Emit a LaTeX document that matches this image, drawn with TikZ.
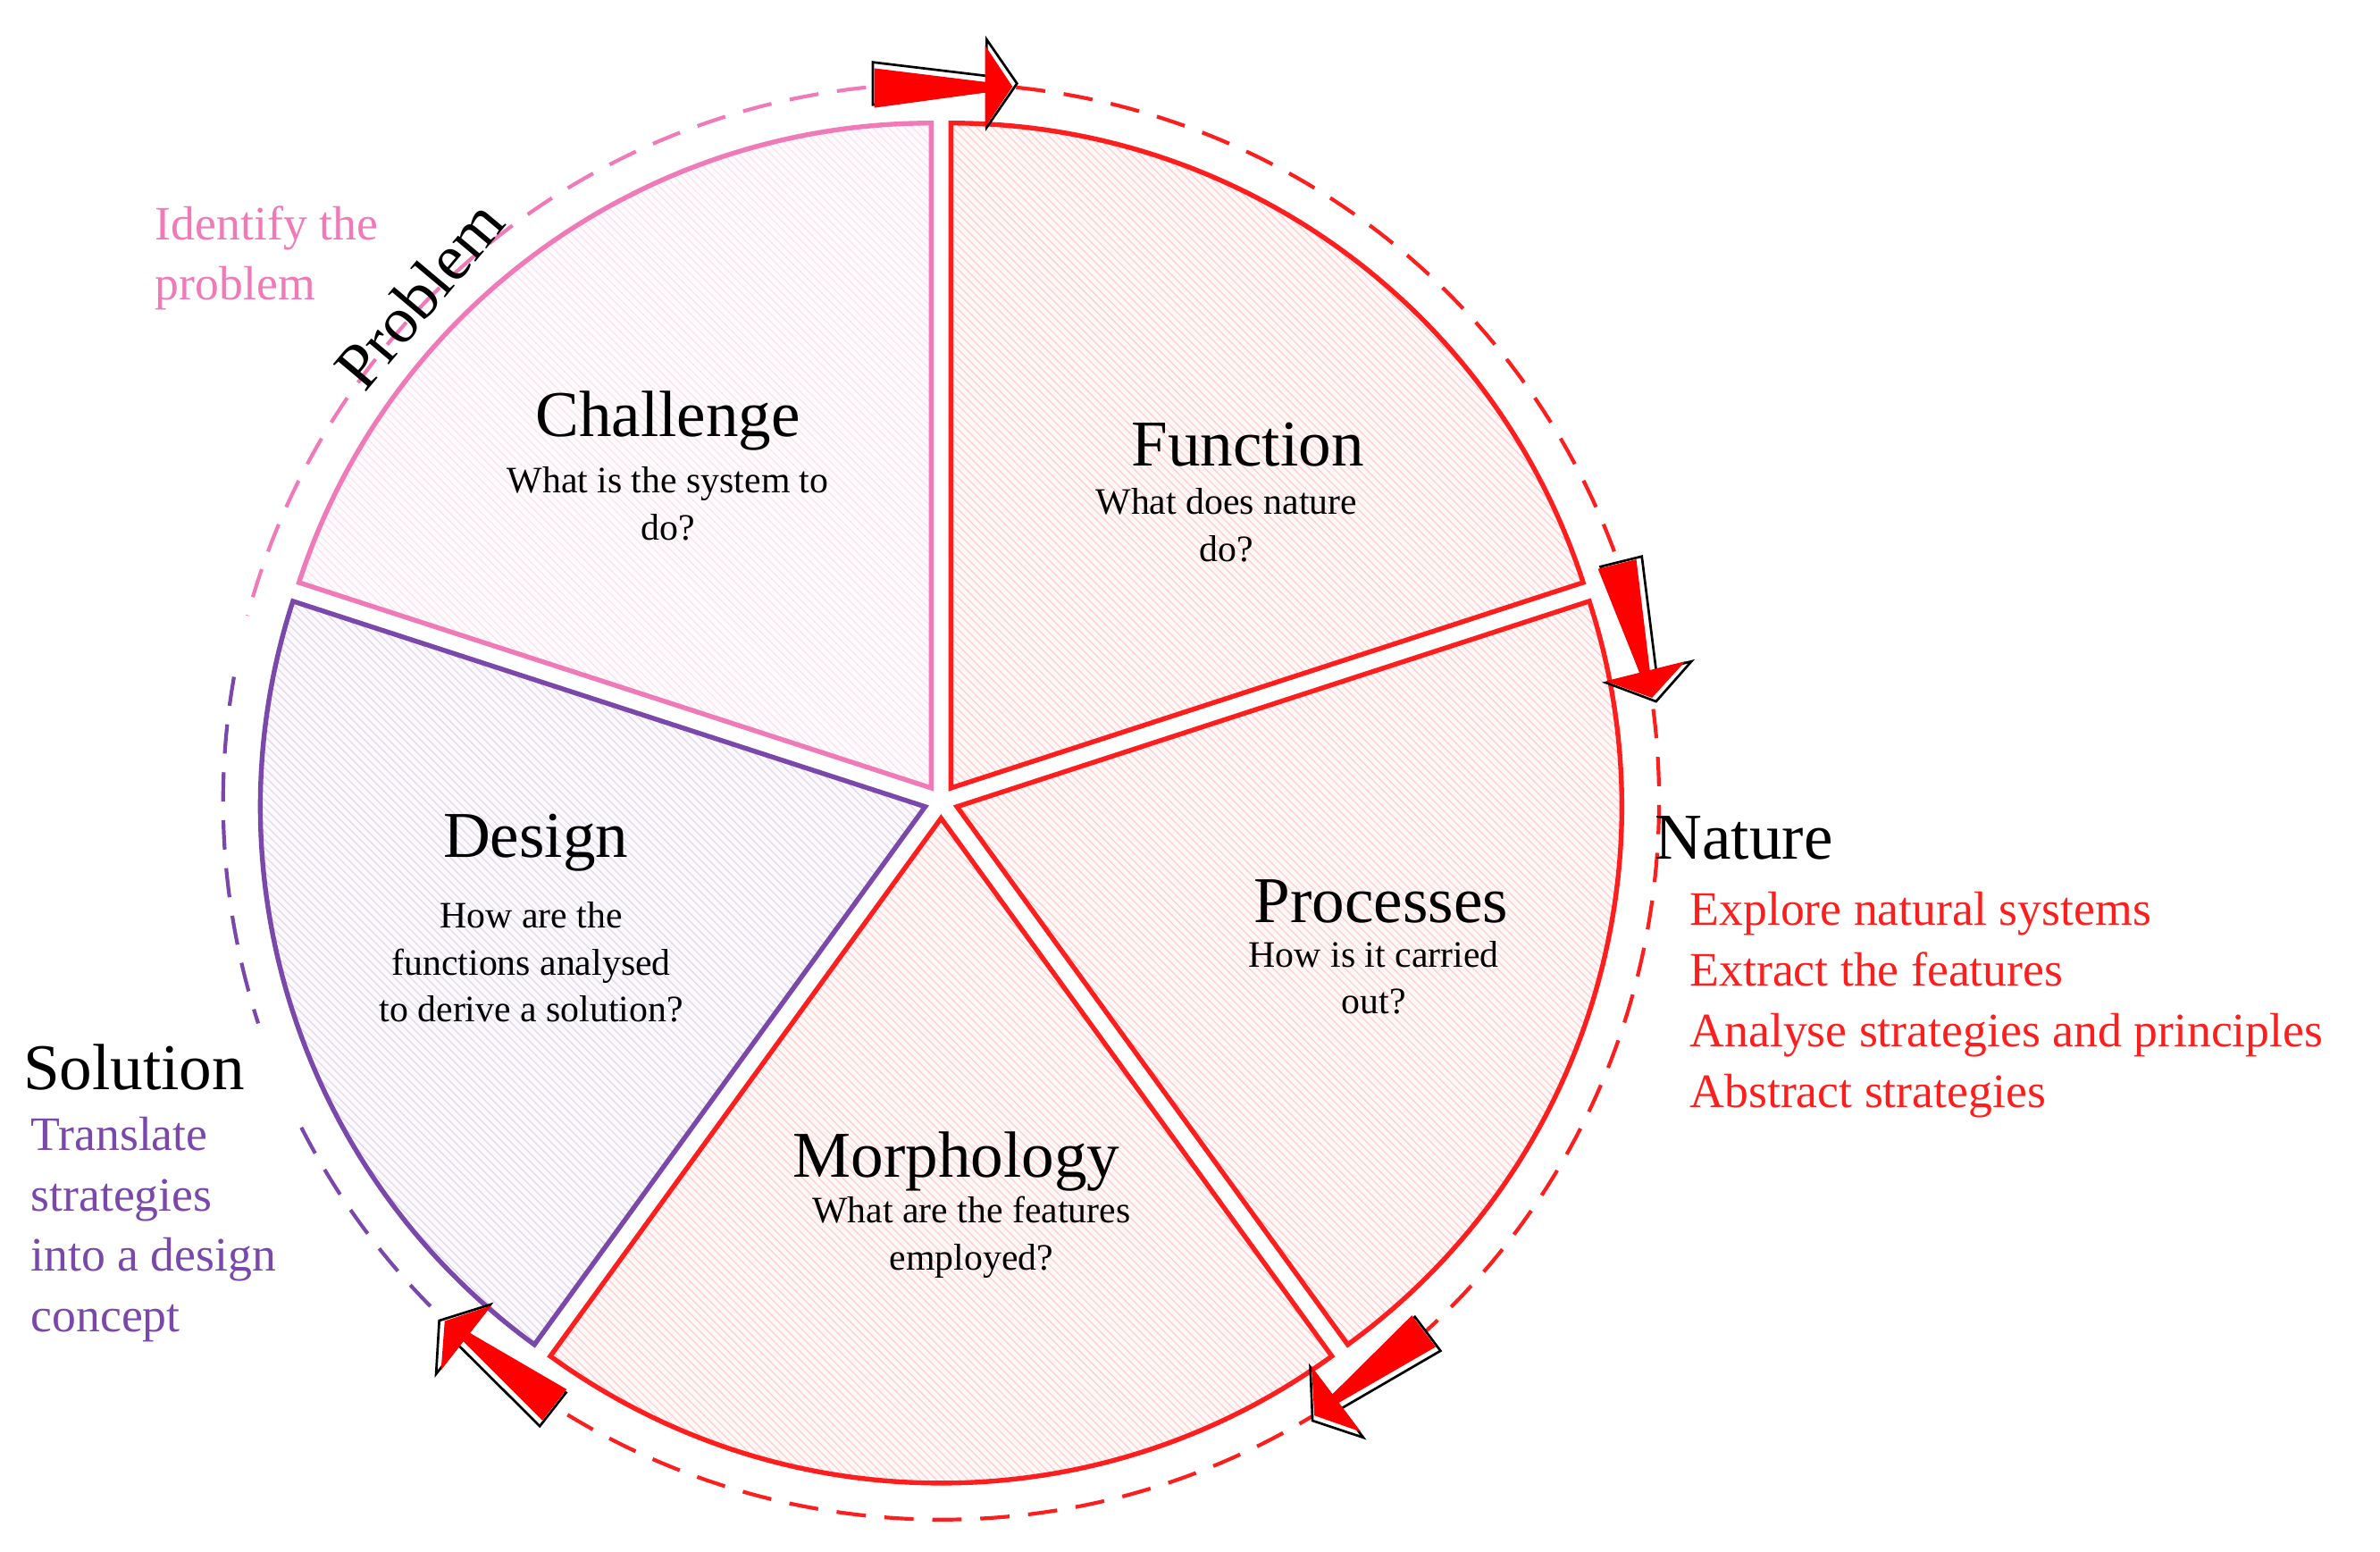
\documentclass[tikz,border=0pt]{standalone}
\usepackage{fontspec}
\setmainfont{Liberation Serif}
\usetikzlibrary{patterns}
\definecolor{pk}{HTML}{F07AB8}
\definecolor{rd}{HTML}{FF1E1E}
\definecolor{pu}{HTML}{7A48AA}
\newcommand\pieslice[3]{%
  \begin{scope}[shift={({(#1+#2)/2}:11)}]
   \fill[#3!3] (0,0) -- (#1:438) arc (#1:#2:438) -- cycle;
   \path[pattern=north west lines, pattern color=#3!22] (0,0) -- (#1:438) arc (#1:#2:438) -- cycle;
   \draw[#3, line width=1.8pt, line join=miter] (0,0) -- (#1:438) arc (#1:#2:438) -- cycle;
  \end{scope}}
\tikzset{
  ttl/.style={font=\fontsize{24.5}{28}\selectfont},
  sub/.style={font=\fontsize{14}{17.6}\selectfont, align=center},
  lst/.style={font=\fontsize{18}{22.7}\selectfont, align=left, anchor=west, inner sep=0},
  dsh/.style={line width=1.4pt, dash pattern=on 11pt off 7pt},
  blk/.pic={
    \draw[black, line width=0.9pt, fill=white] (-45,14) -- (30,5) -- (30,29) -- (50,0) -- (30,-29) -- (30,-5) -- (-45,-14) -- cycle;
    \fill[red] (-44,10) -- (29,1) -- (29,25) -- (47,-2) -- (29,-29) -- (29,-6) -- (-44,-16) -- cycle;
  }
}
\begin{document}
\begin{tikzpicture}[x=0.02cm,y=0.02cm]
\useasboundingbox (0,0) rectangle (1568,1022);
\begin{scope}[shift={(620,494)}]
  \draw[pk,dsh] (96:473) arc (96:165:473);
  \draw[pu,dsh] (170:473) arc (170:198:473);
  \draw[pu,dsh] (207:473) arc (207:234:473);
  \draw[rd,dsh] (84:473) arc (84:-123:473);
  \pieslice{90}{162}{pk}
  \pieslice{18}{90}{rd}
  \pieslice{-54}{18}{rd}
  \pieslice{-126}{-54}{rd}
  \pieslice{162}{234}{pu}
  \pic[rotate=0] at (90:473) {blk};
  \pic[rotate=-76] at (14:473) {blk};
  \pic[rotate=-143] at (-53:473) {blk};
  \pic[rotate=-218] at (-128:473) {blk};
\end{scope}
\node[ttl] (chT) at (440,745) {Challenge};
\node[sub] (chS) at (440,690) {What is the system to\\do?};
\node[ttl] (fuT) at (822,729) {Function};
\node[sub] (fuS) at (808,676) {What does nature\\do?};
\node[ttl] (prT) at (910,428) {Processes};
\node[sub] (prS) at (905,378) {How is it carried\\out?};
\node[ttl] (moT) at (630,257) {Morphology};
\node[sub] (moS) at (640,207) {What are the features\\employed?};
\node[ttl] (deT) at (353,467) {Design};
\node[sub] (deS) at (350,388) {How are the\\functions analysed\\to derive a solution?};
\node[ttl, rotate=50, inner sep=0] (pb) at (276,828) {Problem};
\node[lst, pk] (idf) at (102,852) {Identify the\\problem};
\node[ttl, anchor=west, inner sep=0] (nat) at (1090,470) {Nature};
\node[lst, rd] (natl) at (1113,360) {Explore natural systems\\Extract the features\\Analyse strategies and principles\\Abstract strategies};
\node[ttl, anchor=west, inner sep=0] (sol) at (15,319) {Solution};
\node[lst, pu] (soll) at (20,212) {Translate\\strategies\\into a design\\concept};
\end{tikzpicture}
\end{document}
